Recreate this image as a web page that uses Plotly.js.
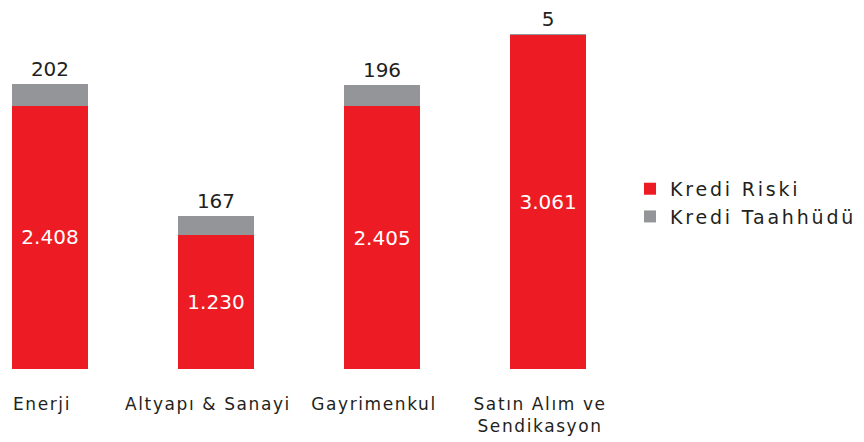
<!DOCTYPE html>
<html>
<head>
<meta charset="utf-8">
<script src="https://cdn.plot.ly/plotly-3.0.1.min.js"></script>
<style>
html,body{margin:0;padding:0;background:#fff;}
#chart{width:864px;height:442px;}
.legendtext{letter-spacing:2.8px;}
.xtick text{letter-spacing:1.6px;}
</style>
</head>
<body>
<div id="chart"></div>
<script>
const categories = ["Enerji", "Altyapı & Sanayi", "Gayrimenkul", "Satın Alım ve<br>Sendikasyon"];
const krediRiski = [2408, 1230, 2405, 3061];
const krediTaahhudu = [202, 167, 196, 5];
const riskLabels = ["2.408", "1.230", "2.405", "3.061"];
const taahhutLabels = ["202", "167", "196", "5"];

const FONT = "'DejaVu Sans', sans-serif";
const traces = [
  {
    type: "bar", name: "Kredi Riski", x: categories, y: krediRiski,
    marker: {color: "#ED1C24"},
    text: riskLabels, textposition: "inside", insidetextanchor: "middle",
    textfont: {color: "#ffffff", size: 20, family: FONT},
    hoverinfo: "skip"
  },
  {
    type: "bar", name: "Kredi Taahhüdü", x: categories, y: krediTaahhudu,
    marker: {color: "#939598"},
    text: taahhutLabels, textposition: "outside",
    textfont: {color: "#231F20", size: 20, family: FONT},
    cliponaxis: false, hoverinfo: "skip"
  }
];

const layout = {
  width: 864, height: 442,
  margin: {l: 0, r: 264, t: 20, b: 73},
  paper_bgcolor: "#ffffff", plot_bgcolor: "#ffffff",
  barmode: "stack", bargap: 0.542,
  font: {family: FONT, color: "#231F20", size: 17},
  xaxis: {
    range: [-0.301, 3.313], showgrid: false, zeroline: false, showline: false,
    ticks: "", ticklabelstandoff: 23, ticklabelshift: -8,
    tickfont: {size: 17, family: FONT, color: "#231F20"}
  },
  yaxis: {range: [0, 3194], visible: false, showgrid: false, zeroline: false},
  showlegend: true,
  legend: {
    x: 1.05, xanchor: "left", y: 0.476, yanchor: "middle",
    traceorder: "normal", font: {size: 19, family: FONT, color: "#231F20"},
    bgcolor: "rgba(0,0,0,0)"
  }
};

Plotly.newPlot("chart", traces, layout, {displayModeBar: false, staticPlot: true});
</script>
</body>
</html>
